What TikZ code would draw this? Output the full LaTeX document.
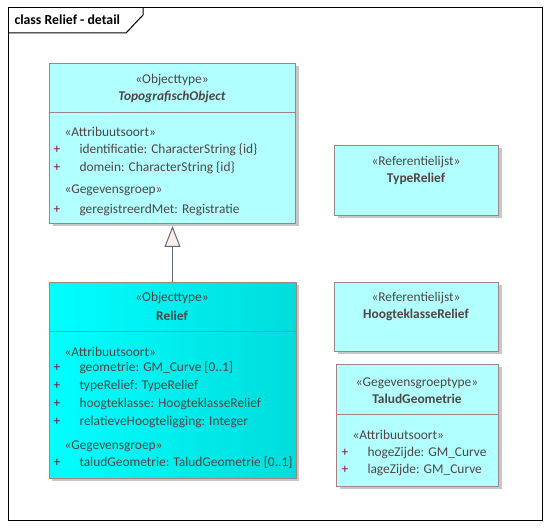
\documentclass[tikz,border=0pt]{standalone}
\usepackage{fontspec}
\setmainfont{Carlito}
\usetikzlibrary{arrows.meta,calc,positioning,shadows}
\definecolor{umlborder}{RGB}{165,130,130}
\definecolor{umltext}{RGB}{80,68,68}
\definecolor{umlplus}{RGB}{125,20,60}
\definecolor{lightcyan}{RGB}{178,255,255}
\definecolor{deepcyan}{RGB}{0,220,220}
\definecolor{genline}{RGB}{95,105,130}
\definecolor{genfill}{RGB}{252,238,234}
\newcommand{\umlfont}{\fontsize{13.4}{15}\selectfont}
\tikzset{
	classbox/.style = {draw=umlborder, rectangle, anchor=north west, inner sep=0pt,
		drop shadow={shadow xshift=3pt, shadow yshift=-3pt, fill=black!22, opacity=1}},
	stereo/.style = {inner sep=0pt, text=umltext},
	cname/.style = {inner sep=0pt, text=umltext, font=\umlfont\bfseries},
	attr/.style = {inner sep=0pt, anchor=west, text=umltext},
	plus/.style = {inner sep=0pt, text=umlplus},
	sep/.style = {draw=umlborder},
	gen/.style = {draw=genline, -{Triangle[open, fill=genfill, length=21pt, width=16pt]}, shorten >=2pt},
}
\begin{document}
\begin{tikzpicture}[x=1pt, y=-1pt, font=\umlfont, line width=1pt]
	\useasboundingbox (0,0) rectangle (550,529);
	%Frame
	\draw[line width=1pt] (8,8) rectangle (542,521);
	\coordinate (tabA) at (8,33);
	\coordinate (tabB) at (126,33);
	\coordinate (tabC) at (143,15);
	\coordinate (tabD) at (143,8);
	\draw (tabA) -- (tabB) -- (tabC) -- (tabD);
	\node[inner sep=0pt, anchor=west, font=\fontsize{13.8}{15}\selectfont\bfseries] (title) at (14,20) {class Relief - detail};
	%Boxes
	\node[classbox, fill=lightcyan, minimum width=246pt, minimum height=160pt] (topo) at (49,63) {};
	\node[classbox, left color=cyan, right color=deepcyan, minimum width=247pt, minimum height=196pt] (relief) at (48.5,282) {};
	\node[classbox, fill=lightcyan, minimum width=164pt, minimum height=70pt] (typerelief) at (334,145) {};
	\node[classbox, fill=lightcyan, minimum width=164pt, minimum height=69pt] (hoogte) at (334,282) {};
	\node[classbox, fill=lightcyan, minimum width=162pt, minimum height=122pt] (talud) at (336,364) {};
	\draw[sep] (topo.west |- 0,113) -- (topo.east |- 0,113);
	\draw[sep] (relief.west |- 0,332) -- (relief.east |- 0,332);
	\draw[sep] (talud.west |- 0,415) -- (talud.east |- 0,415);
	%TopografischObject
	\node[stereo] (topo-st) at (172,80) {«Objecttype»};
	\node[cname, font=\umlfont\bfseries\itshape] (topo-name) at (172,97) {TopografischObject};
	\node[attr] (topo-as) at (64,132) {«Attribuutsoort»};
	\node[plus] (topo-p1) at (57,150) {+};
	\node[attr] (topo-a1) at (79,150) {identificatie: CharacterString \{id\}};
	\node[plus] (topo-p2) at (57,168) {+};
	\node[attr] (topo-a2) at (79,168) {domein: CharacterString \{id\}};
	\node[attr] (topo-gg) at (64,190) {«Gegevensgroep»};
	\node[plus] (topo-p3) at (57,210) {+};
	\node[attr] (topo-a3) at (79,210) {geregistreerdMet: Registratie};
	%Relief
	\node[stereo] (relief-st) at (172,298) {«Objecttype»};
	\node[cname] (relief-name) at (172,316) {Relief};
	\node[attr] (relief-as) at (64,352) {«Attribuutsoort»};
	\node[plus] (relief-p1) at (57,368) {+};
	\node[attr] (relief-a1) at (79,368) {geometrie: GM\_Curve [0..1]};
	\node[plus] (relief-p2) at (57,386) {+};
	\node[attr] (relief-a2) at (79,386) {typeRelief: TypeRelief};
	\node[plus] (relief-p3) at (57,404) {+};
	\node[attr] (relief-a3) at (79,404) {hoogteklasse: HoogteklasseRelief};
	\node[plus] (relief-p4) at (57,422) {+};
	\node[attr] (relief-a4) at (79,422) {relatieveHoogteligging: Integer};
	\node[attr] (relief-gg) at (64,446) {«Gegevensgroep»};
	\node[plus] (relief-p5) at (57,463) {+};
	\node[attr] (relief-a5) at (79,463) {taludGeometrie: TaludGeometrie [0..1]};
	%Referentielijsten
	\node[stereo] (typerelief-st) at (416,162) {«Referentielijst»};
	\node[cname] (typerelief-name) at (416,179) {TypeRelief};
	\node[stereo] (hoogte-st) at (416,298) {«Referentielijst»};
	\node[cname] (hoogte-name) at (416,315) {HoogteklasseRelief};
	%TaludGeometrie
	\node[stereo] (talud-st) at (417,383) {«Gegevensgroeptype»};
	\node[cname] (talud-name) at (417,399) {TaludGeometrie};
	\node[attr] (talud-as) at (352,435) {«Attribuutsoort»};
	\node[plus] (talud-p1) at (345,453) {+};
	\node[attr] (talud-a1) at (367,453) {hogeZijde: GM\_Curve};
	\node[plus] (talud-p2) at (345,470) {+};
	\node[attr] (talud-a2) at (367,470) {lageZijde: GM\_Curve};
	%Lines
	\draw[gen] (relief.north) -- (topo.south);
\end{tikzpicture}
\end{document}
